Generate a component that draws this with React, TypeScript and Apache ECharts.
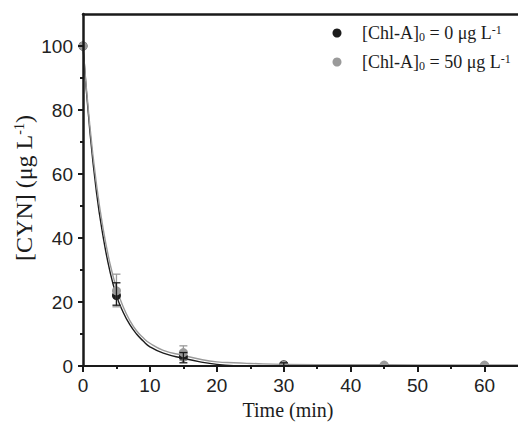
import React, { useEffect, useRef } from 'react';
import * as echarts from 'echarts';

// Axis ticks
const xTickLabels = [0, 10, 20, 30, 40, 50, 60];
const xMinorTicks = [5, 15, 25, 35, 45, 55];
const yTickLabels = [0, 20, 40, 60, 80, 100];
const yMinorTicks = [10, 30, 50, 70, 90];

// Measured points
const sampleTimes = [0, 5, 15, 30, 45, 60];
const cynNoChl = [100, 22, 2.8, 0.4, 0, 0];
const cynChl50 = [100, 23.5, 4.2, 0.2, 0.3, 0.3];

// Error bars
const errTimesNoChl = [5, 15, 30];
const errNoChlLow = [19, 1.0, -0.2];
const errNoChlHigh = [26, 4.2, 1.0];
const errTimesChl50 = [5, 15];
const errChl50Low = [18.5, 1.8];
const errChl50High = [28.7, 6.3];

// Fitted curves
const fitTimes = [0, 1, 2, 3, 4, 5, 6, 7, 8, 9, 10, 12, 15, 17.5, 20, 22.5, 25, 30, 40, 50, 60, 65];
const fitNoChl = [100, 74, 54.5, 40.5, 29.8, 22, 16.8, 12.9, 10, 7.8, 6.0, 4.0, 2.4, 1.3, 0.5, 0.1, 0, 0, 0, 0, 0, 0];
const fitChl50 = [100, 75.5, 57, 43, 32.3, 24.3, 18.5, 14.2, 11, 8.8, 7.1, 4.9, 3.3, 2.1, 1.3, 1.0, 0.8, 0.5, 0.4, 0.35, 0.3, 0.3];

const seriesNames = ['[Chl-A]0 = 0 μg L-1', '[Chl-A]0 = 50 μg L-1'];
const legendTexts = ['[Chl-A]{sub|0} = 0 μg L{sup|-1}', '[Chl-A]{sub|0} = 50 μg L{sup|-1}'];

const BLACK = '#1c1c1c';
const GRAY = '#9a9a9a';
const AXIS = '#1a1a1a';

function errorSeries(times: number[], lo: number[], hi: number[], color: string, z: number) {
  return {
    type: 'custom',
    z,
    silent: true,
    encode: { x: 0, y: [1, 2] },
    data: times.map((t, i) => [t, lo[i], hi[i]]),
    renderItem: (params: any, api: any) => {
      const x = api.value(0);
      const pLo = api.coord([x, api.value(1)]);
      const pHi = api.coord([x, api.value(2)]);
      const hw = 4;
      const style = { stroke: color, lineWidth: 1.3, fill: null };
      return {
        type: 'group',
        children: [
          { type: 'line', shape: { x1: pLo[0], y1: pLo[1], x2: pHi[0], y2: pHi[1] }, style },
          { type: 'line', shape: { x1: pLo[0] - hw, y1: pLo[1], x2: pLo[0] + hw, y2: pLo[1] }, style },
          { type: 'line', shape: { x1: pHi[0] - hw, y1: pHi[1], x2: pHi[0] + hw, y2: pHi[1] }, style },
        ],
      };
    },
  };
}

export default function App() {
  const ref = useRef<HTMLDivElement>(null);
  useEffect(() => {
    document.body.style.margin = '0';
    if (!ref.current) return;
    const chart = echarts.init(ref.current, null, { renderer: 'svg' });
    const serif = 'Liberation Serif';
    const legendRich = {
      sub: { fontSize: 12, fontFamily: serif, color: BLACK, verticalAlign: 'bottom', padding: [7, 0, 0, 0] },
      sup: { fontSize: 12, fontFamily: serif, color: BLACK, verticalAlign: 'top', padding: [0, 0, 5, 0] },
    };
    const tickFont = { fontFamily: 'Liberation Sans', fontSize: 19, color: '#222' };
    chart.setOption({
      animation: false,
      backgroundColor: '#ffffff',
      grid: { left: 83, top: 14, right: -3, bottom: 67, containLabel: false },
      xAxis: [
        {
          type: 'value', min: 0, max: 65, position: 'bottom', z: 20,
          axisLine: { show: true, onZero: false, lineStyle: { color: AXIS, width: 2 } },
          axisTick: { show: true, inside: false, length: 6, customValues: xTickLabels, lineStyle: { color: AXIS, width: 2 } },
          axisLabel: { customValues: xTickLabels, ...tickFont, margin: 10 },
          splitLine: { show: false },
        },
        {
          type: 'value', min: 0, max: 65, position: 'bottom', z: 20,
          axisLine: { show: false, onZero: false },
          axisTick: { show: true, inside: false, length: 3, customValues: xMinorTicks, lineStyle: { color: AXIS, width: 2 } },
          axisLabel: { show: false },
          splitLine: { show: false },
        },
        {
          type: 'value', min: 0, max: 65, position: 'top', z: 20,
          axisLine: { show: true, onZero: false, lineStyle: { color: AXIS, width: 2.5 } },
          axisTick: { show: false },
          axisLabel: { show: false },
          splitLine: { show: false },
        },
      ],
      yAxis: [
        {
          type: 'value', min: 0, max: 110, position: 'left', z: 20,
          axisLine: { show: true, onZero: false, lineStyle: { color: AXIS, width: 2.5 } },
          axisTick: { show: true, inside: false, length: 5, customValues: yTickLabels, lineStyle: { color: AXIS, width: 2 } },
          axisLabel: { customValues: yTickLabels, ...tickFont, margin: 10 },
          splitLine: { show: false },
        },
        {
          type: 'value', min: 0, max: 110, position: 'left', z: 20,
          axisLine: { show: false, onZero: false },
          axisTick: { show: true, inside: false, length: 3, customValues: yMinorTicks, lineStyle: { color: AXIS, width: 2 } },
          axisLabel: { show: false },
          splitLine: { show: false },
        },
      ],
      series: [
        {
          type: 'line', name: seriesNames[0] + ' fit', z: 2, smooth: true, symbol: 'none', clip: true,
          data: fitTimes.map((t, i) => [t, fitNoChl[i]]),
          lineStyle: { color: BLACK, width: 1.4 },
        },
        {
          type: 'line', name: seriesNames[1] + ' fit', z: 3, smooth: true, symbol: 'none', clip: true,
          data: fitTimes.map((t, i) => [t, fitChl50[i]]),
          lineStyle: { color: GRAY, width: 1.4 },
        },
        {
          type: 'scatter', name: seriesNames[0], z: 4, symbol: 'circle', symbolSize: 9,
          data: sampleTimes.map((t, i) => [t, cynNoChl[i]]),
          itemStyle: { color: BLACK, opacity: 1 },
        },
        {
          type: 'scatter', name: seriesNames[1], z: 5, symbol: 'circle', symbolSize: 9,
          data: sampleTimes.map((t, i) => [t, cynChl50[i]]),
          itemStyle: { color: GRAY, opacity: 1 },
        },
        errorSeries(errTimesChl50, errChl50Low, errChl50High, GRAY, 6),
        errorSeries(errTimesNoChl, errNoChlLow, errNoChlHigh, BLACK, 7),
      ],
      graphic: [
        // mask below the x axis so markers sitting on the axis are cut off like in the figure
        { type: 'rect', z: 10, shape: { x: 84, y: 367, width: 440, height: 12 }, style: { fill: '#ffffff' } },
        { type: 'circle', shape: { cx: 337, cy: 33, r: 4.5 }, style: { fill: BLACK } },
        { type: 'circle', shape: { cx: 337, cy: 62, r: 4.5 }, style: { fill: GRAY } },
        {
          type: 'text', x: 362, y: 33,
          style: { text: legendTexts[0], fontFamily: serif, fontSize: 18, fill: BLACK, verticalAlign: 'middle', rich: legendRich },
        },
        {
          type: 'text', x: 362, y: 62,
          style: { text: legendTexts[1], fontFamily: serif, fontSize: 18, fill: BLACK, verticalAlign: 'middle', rich: legendRich },
        },
        {
          type: 'text', x: 288, y: 410,
          style: { text: 'Time (min)', fontFamily: serif, fontSize: 20, fill: BLACK, align: 'center', verticalAlign: 'middle' },
        },
        {
          type: 'text', x: 24, y: 188, rotation: Math.PI / 2,
          style: {
            text: '[CYN] (μg L{sup|-1})', fontFamily: serif, fontSize: 24, fill: BLACK, align: 'center', verticalAlign: 'middle',
            rich: { sup: { fontSize: 14, fontFamily: serif, fill: BLACK, verticalAlign: 'top', padding: [0, 0, 7, 0] } },
          },
        },
      ],
    });
    return () => chart.dispose();
  }, []);
  return <div ref={ref} style={{ width: 518, height: 433 }} />;
}
